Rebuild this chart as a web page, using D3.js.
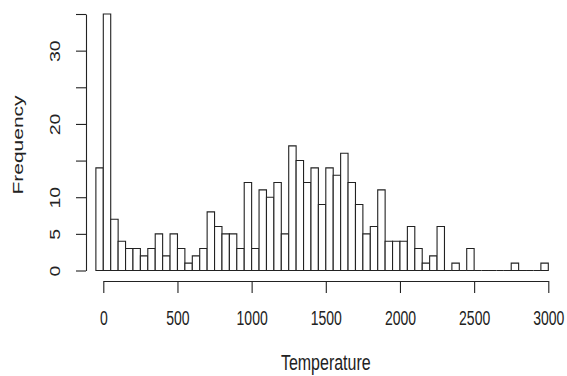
<!DOCTYPE html>
<html>
<head>
<meta charset="utf-8">
<script src="https://cdn.jsdelivr.net/npm/d3@7"></script>
<style>
  body { margin: 0; background: #fff; }
  text { font-family: "Liberation Sans", Arial, sans-serif; fill: #222; }
</style>
</head>
<body>
<svg id="chart" width="567" height="376"></svg>
<script>
// histogram bins: first bin starts at -50, each 50 wide
const binStart = -50;
const binWidth = 50;
const counts = [14, 35, 7, 4, 3, 3, 2, 3, 5, 2, 5, 3, 1, 2, 3, 8, 6, 5, 5, 3,
  12, 3, 11, 10, 12, 5, 17, 15, 12, 14, 9, 14, 13, 16, 12, 9, 5, 6, 11, 4,
  4, 4, 6, 3, 1, 2, 6, 0, 1, 0, 3, 0, 0, 0, 0, 0, 1, 0, 0, 0, 1];
const xTicks = [0, 500, 1000, 1500, 2000, 2500, 3000];
const yTicks = [0, 5, 10, 15, 20, 25, 30, 35];
const yLabels = [0, 5, 10, 20, 30]; // R drops the ones that would overlap
const xTitle = "Temperature";
const yTitle = "Frequency";

const stretch = 1.4; // the picture is taller than R drew it
const ink = "#222";

const svg = d3.select("#chart");

const x = d3.scaleLinear().domain([0, 3000]).range([103.3, 548.3]);
const y = d3.scaleLinear().domain([0, 35]).range([270.5, 14]);

// bars as closed paths so empty bins still show as a line on the baseline
const bins = counts.map((c, i) => ({ x0: binStart + i * binWidth, x1: binStart + (i + 1) * binWidth, n: c }));
svg.append("g")
  .selectAll("path")
  .data(bins)
  .enter()
  .append("path")
  .attr("d", d => {
    const p = d3.path();
    p.rect(x(d.x0), y(d.n), x(d.x1) - x(d.x0), y(0) - y(d.n));
    return p.toString();
  })
  .attr("fill", "#fff")
  .attr("stroke", ink)
  .attr("stroke-width", 1.1);

// x axis
const gx = svg.append("g").attr("transform", "translate(0,281)");
gx.call(d3.axisBottom(x).tickValues(xTicks).tickSize(12).tickSizeOuter(0).tickFormat(d3.format("d")));
gx.select(".domain").attr("stroke", ink).attr("stroke-width", 1.1);
gx.selectAll(".tick line").attr("stroke", ink).attr("stroke-width", 1.1);
gx.selectAll(".tick text")
  .attr("y", 0).attr("dy", 0)
  .attr("transform", `translate(0,44) scale(1,${stretch})`)
  .style("font-size", "14px")
  .attr("fill", ink);

// y axis
const gy = svg.append("g").attr("transform", "translate(86,0)");
gy.call(d3.axisLeft(y).tickValues(yTicks).tickSize(10).tickSizeOuter(0)
  .tickFormat(d => yLabels.includes(d) ? String(d) : ""));
gy.select(".domain").attr("stroke", ink).attr("stroke-width", 1.1);
gy.selectAll(".tick line").attr("stroke", ink).attr("stroke-width", 1.1);
gy.selectAll(".tick text")
  .attr("x", 0).attr("dy", 0)
  .attr("text-anchor", "middle")
  .attr("transform", `translate(-26,0) scale(1,${stretch}) rotate(-90)`)
  .style("font-size", "14px")
  .attr("fill", ink);

// titles
svg.append("text")
  .attr("text-anchor", "middle")
  .attr("transform", `translate(${(x(0) + x(3000)) / 2},370) scale(1,${stretch})`)
  .style("font-size", "16px")
  .text(xTitle);

svg.append("text")
  .attr("text-anchor", "middle")
  .attr("transform", `translate(23,145) scale(1,${stretch}) rotate(-90)`)
  .style("font-size", "15px")
  .text(yTitle);
</script>
</body>
</html>
